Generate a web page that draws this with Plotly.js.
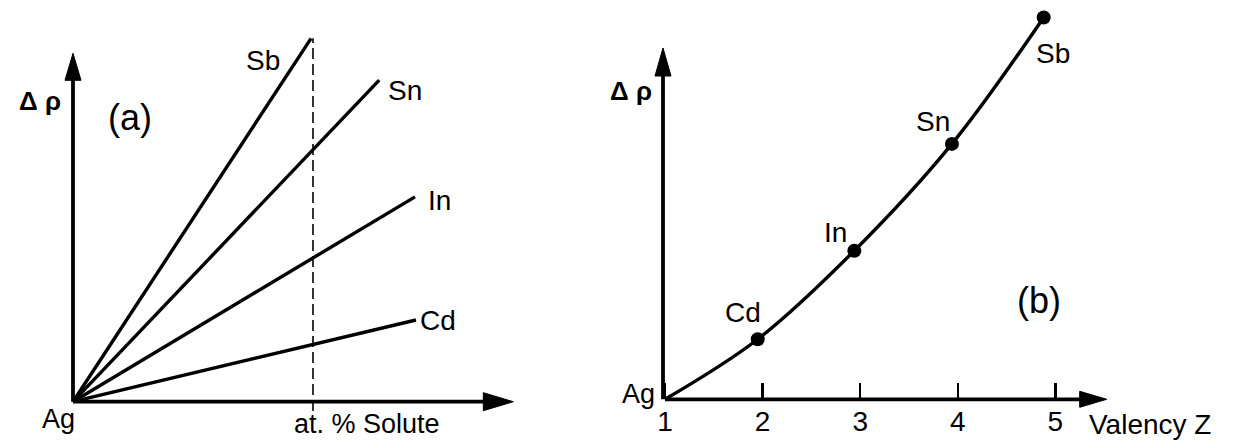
<!DOCTYPE html>
<html><head><meta charset="utf-8">
<script src="https://cdn.plot.ly/plotly-3.0.1.min.js"></script>
<style>html,body{margin:0;padding:0;background:#fff;} #chart{width:1234px;height:441px;}</style>
</head><body><div id="chart"></div>
<script>
// ---------- DATA ----------
// Panel (a): Δρ against at.% solute, straight lines from the Ag origin
const soluteNames = ['Sb', 'Sn', 'In', 'Cd'];
const lineEndX = [0.992, 1.276, 1.425, 1.429];   // at.% solute at line end
const lineEndY = [10.43, 9.23, 5.88, 2.345];     // Δρ at line end (arb. units)
const guideX = [1, 1];                           // dashed guide at 1 at.%
const guideY = [-0.27, 10.43];

// Panel (b): Δρ (per at.%) against valency Z
const valencyNames = ['Ag', 'Cd', 'In', 'Sn', 'Sb'];
const valencyZ = [1, 1.95, 2.94, 3.94, 4.88];
const deltaRho = [0, 1.71, 4.23, 7.27, 10.87];
const zTickVals = [1, 2, 3, 4, 5];
const zTickText = ['1', '2', '3', '4', '5'];

// ---------- GEOMETRY (pixels) ----------
const W = 1234, H = 441;
const A = {ox: 73, oy: 401.7, kx: 240, ky: 34.84, left: 0, right: 600};
const B = {ox: 665, oy: 399.3, kx: 97.6, ky: 35.13, x0: 1, left: 600, right: 1234};
const aXTip = (513.3 - A.ox) / A.kx, aYTip = 10;
const bXTip = B.x0 + (1106.7 - B.ox) / B.kx, bYTip = 10;

const FONT = 'Liberation Sans, Arial, sans-serif';
const BLACK = '#000';

// ---------- TRACES ----------
const traces = [];
soluteNames.forEach((n, i) => {
  traces.push({
    type: 'scatter', mode: 'lines', xaxis: 'x', yaxis: 'y', name: n,
    x: [0, lineEndX[i]], y: [0, lineEndY[i]],
    line: {color: BLACK, width: 3.4}
  });
});
traces.push({
  type: 'scatter', mode: 'lines', xaxis: 'x', yaxis: 'y',
  x: guideX, y: guideY, line: {color: BLACK, width: 1.6, dash: '11px,5px'}
});
traces.push({
  type: 'scatter', mode: 'lines', xaxis: 'x2', yaxis: 'y2',
  x: valencyZ, y: deltaRho, line: {color: BLACK, width: 3.4, shape: 'spline', smoothing: 1}
});
traces.push({
  type: 'scatter', mode: 'markers', xaxis: 'x2', yaxis: 'y2', cliponaxis: false,
  x: valencyZ.slice(1), y: deltaRho.slice(1),
  marker: {color: BLACK, size: 14}
});

// ---------- AXES (arrows) ----------
function line(xr, yr, x0, y0, x1, y1, w) {
  return {type: 'line', xref: xr, yref: yr, x0, y0, x1, y1, line: {color: BLACK, width: w}};
}
function head(xr, yr, x, y, path) {
  return {type: 'path', xref: xr, yref: yr, xsizemode: 'pixel', ysizemode: 'pixel',
          xanchor: x, yanchor: y, path, fillcolor: BLACK, line: {color: BLACK, width: 1}};
}
const shapes = [
  line('x', 'y', 0, 0, aXTip - 14 / A.kx, 0, 3.8),
  line('x', 'y', 0, 0, 0, aYTip - 12 / A.ky, 3.8),
  head('x', 'y', aXTip, 0, 'M0,0 L-30,9 L-30,-9 Z'),
  head('x', 'y', 0, aYTip, 'M0,0 L-8,-27 L8,-27 Z'),
  line('x2', 'y2', B.x0, 0, bXTip - 12 / B.kx, 0, 3.8),
  line('x2', 'y2', B.x0 - 2 / B.kx, 0, B.x0 - 2 / B.kx, bYTip - 12 / B.ky, 3.8),
  head('x2', 'y2', bXTip, 0, 'M0,0 L-27,8 L-27,-8 Z'),
  head('x2', 'y2', B.x0 - 2 / B.kx, bYTip, 'M0,0 L-8,-28 L8,-28 Z')
];

// ---------- TEXT ----------
const px = v => v / W, py = v => 1 - v / H;
function paperText(text, x, y, size, bold) {
  return {xref: 'paper', yref: 'paper', x: px(x), y: py(y), text: bold ? '<b>' + text + '</b>' : text,
          showarrow: false, xanchor: 'center', yanchor: 'middle',
          font: {family: FONT, size, color: BLACK}};
}
const annotations = [
  paperText('Δ ρ', 40, 101, 26, true),
  paperText('Δ ρ', 631, 91, 26, true),
  paperText('(a)', 130, 117, 36),
  paperText('(b)', 1038.5, 300, 36),
  paperText('Ag', 58.5, 419, 27),
  paperText('Ag', 638, 394, 27),
  paperText('at. % Solute', 367, 424, 27),
  paperText('Valency Z', 1150, 424, 28)
];
const aShift = [[-48, -22], [26, -10], [24, -4], [22, 0]];
soluteNames.forEach((n, i) => {
  annotations.push({xref: 'x', yref: 'y', x: lineEndX[i], y: lineEndY[i], text: n, showarrow: false,
    xanchor: 'center', yanchor: 'middle', xshift: aShift[i][0], yshift: aShift[i][1],
    font: {family: FONT, size: 28, color: BLACK}});
});
const bShift = [null, [-15, 27], [-19, 18], [-19, 22], [9, -36]];
valencyNames.forEach((n, i) => {
  if (i === 0) return;
  annotations.push({xref: 'x2', yref: 'y2', x: valencyZ[i], y: deltaRho[i], text: n, showarrow: false,
    xanchor: 'center', yanchor: 'middle', xshift: bShift[i][0], yshift: bShift[i][1],
    font: {family: FONT, size: 28, color: BLACK}});
});

// ---------- LAYOUT ----------
const hidden = {visible: false, showgrid: false, zeroline: false, fixedrange: true};
const layout = {
  width: W, height: H, margin: {l: 0, r: 0, t: 0, b: 0},
  paper_bgcolor: '#fff', plot_bgcolor: 'rgba(0,0,0,0)',
  showlegend: false, hovermode: false,
  xaxis: Object.assign({}, hidden, {domain: [px(A.left), px(A.right)], anchor: 'y',
    range: [(A.left - A.ox) / A.kx, (A.right - A.ox) / A.kx]}),
  yaxis: Object.assign({}, hidden, {domain: [0, 1], anchor: 'x',
    range: [(A.oy - H) / A.ky, A.oy / A.ky]}),
  xaxis2: {domain: [px(B.left), px(B.right)], anchor: 'free', position: (H - B.oy) / H,
    range: [B.x0 + (B.left - B.ox) / B.kx, B.x0 + (B.right - B.ox) / B.kx],
    showgrid: false, zeroline: false, showline: false,
    tickmode: 'array', tickvals: zTickVals, ticktext: zTickText,
    ticks: 'inside', ticklen: 16, tickwidth: 2.5, tickcolor: BLACK,
    ticklabelstandoff: 3,
    tickfont: {family: FONT, size: 28, color: BLACK}},
  yaxis2: Object.assign({}, hidden, {domain: [0, 1], anchor: 'x2',
    range: [(B.oy - H) / B.ky, B.oy / B.ky]}),
  shapes, annotations
};
Plotly.newPlot('chart', traces, layout, {staticPlot: true, displayModeBar: false});
</script></body></html>
